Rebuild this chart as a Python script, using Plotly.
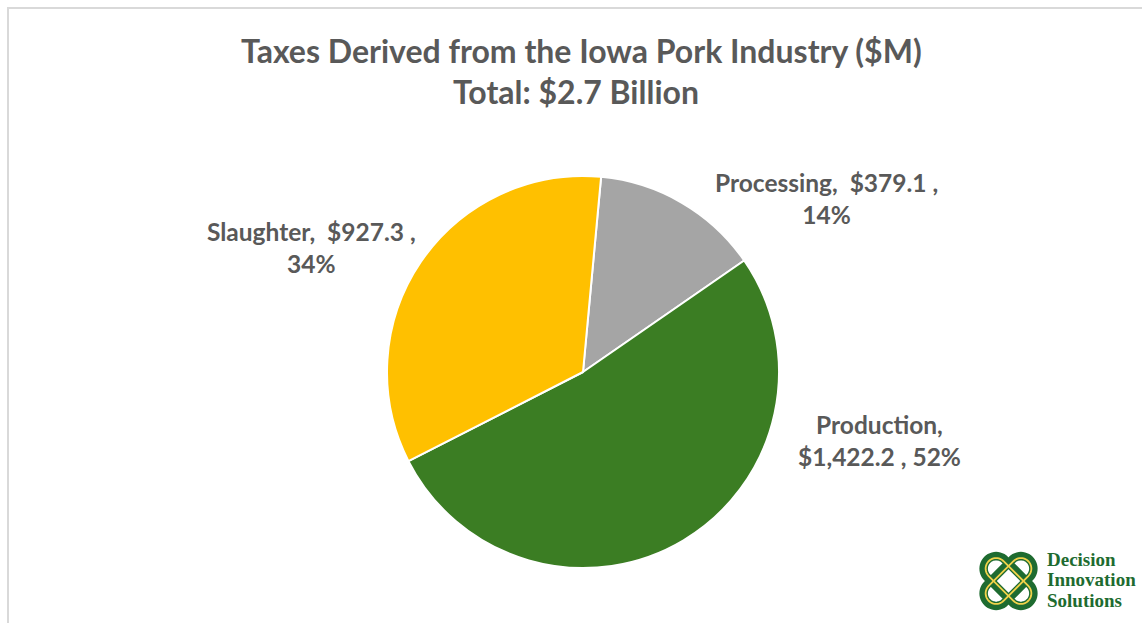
import math
import plotly.graph_objects as go

# Tax contributions by segment ($ millions)
categories = ["Processing", "Production", "Slaughter"]
values = [379.1, 1422.2, 927.3]
colors = ["#A5A5A5", "#3B7D23", "#FFC000"]
# label line break after this many comma-parts
label_breaks = [2, 1, 2]

title_line1 = "Taxes Derived from the Iowa Pork Industry ($M)"
logo_words = ["Decision", "Innovation", "Solutions"]

W, H = 1142, 623
TEXT = "#595959"


def px(x):
    return x / W


def py(y):
    return 1 - y / H


total = sum(values)
pcts = [round(v / total * 100) for v in values]

fig = go.Figure()
fig.add_trace(go.Pie(
    labels=categories,
    values=values,
    sort=False,
    direction="clockwise",
    rotation=5.3,
    marker=dict(colors=colors, line=dict(color="white", width=2)),
    textinfo="none",
    hoverinfo="label+value+percent",
    showlegend=False,
    domain=dict(x=[px(387), px(779)], y=[py(568), py(176)]),
))

# Data labels placed outside the pie
label_pos = [(826, 198), (879, 441), (311, 248)]
annotations = []
for cat, val, pct, brk, (lx, ly) in zip(categories, values, pcts, label_breaks, label_pos):
    parts = [f"{cat},", f"${val:,.1f} ,", f"{pct}%"]
    text = "  ".join(parts[:brk]) + "<br>" + " ".join(parts[brk:])
    annotations.append(dict(
        x=px(lx), y=py(ly), xref="paper", yref="paper",
        text=text, showarrow=False, xanchor="center", yanchor="middle",
        font=dict(family="Lato", size=24.5, color=TEXT, weight="bold"),
    ))

# Title (two lines)
annotations.append(dict(
    x=px(581), y=py(51), xref="paper", yref="paper", text=title_line1,
    showarrow=False, xanchor="center", yanchor="middle",
    font=dict(family="Lato", size=32, color=TEXT, weight="bold"),
))
annotations.append(dict(
    x=px(576), y=py(91), xref="paper", yref="paper",
    text=f"Total: ${total / 1000:.1f} Billion",
    showarrow=False, xanchor="center", yanchor="middle",
    font=dict(family="Lato", size=32, color=TEXT, weight="bold"),
))

# Logo wordmark
for i, word in enumerate(logo_words):
    annotations.append(dict(
        x=px(1045), y=py(559 + i * 20.5), xref="paper", yref="paper", text=word,
        showarrow=False, xanchor="left", yanchor="middle",
        font=dict(family="Liberation Serif", size=19, color="#1E6B30", weight="bold"),
    ))


def stadium_path(cx, cy, angle_deg, d, r, n=24):
    """Closed stadium outline (pixel geometry) converted to paper coords."""
    a = math.radians(angle_deg)
    ux, uy = math.cos(a), math.sin(a)
    pts = []
    bx, by = cx + d * ux, cy + d * uy
    for k in range(n + 1):
        t = a - math.pi / 2 + math.pi * k / n
        pts.append((bx + r * math.cos(t), by + r * math.sin(t)))
    ax_, ay_ = cx - d * ux, cy - d * uy
    for k in range(n + 1):
        t = a + math.pi / 2 + math.pi * k / n
        pts.append((ax_ + r * math.cos(t), ay_ + r * math.sin(t)))
    path = "M " + " L ".join(f"{px(x):.5f},{py(y):.5f}" for x, y in pts) + " Z"
    return path


shapes = [
    # chart frame
    dict(type="rect", xref="paper", yref="paper",
         x0=px(8), x1=1.02, y0=-0.02, y1=py(8),
         line=dict(color="#D9D9D9", width=2), fillcolor="rgba(0,0,0,0)"),
]
knot_cx, knot_cy = 1008.5, 581
for ang in (45, -45):
    shapes.append(dict(type="path", xref="paper", yref="paper",
                       path=stadium_path(knot_cx, knot_cy, ang, 17.5, 12.5),
                       line=dict(color="#1E6B30", width=8.5)))
for ang in (45, -45):
    shapes.append(dict(type="path", xref="paper", yref="paper",
                       path=stadium_path(knot_cx, knot_cy, ang, 17.5, 10.5),
                       line=dict(color="#F0D24A", width=1.8)))

fig.update_layout(
    width=W, height=H,
    margin=dict(l=0, r=0, t=0, b=0),
    paper_bgcolor="white", plot_bgcolor="white",
    annotations=annotations,
    shapes=shapes,
)

fig.write_html("out.html")
